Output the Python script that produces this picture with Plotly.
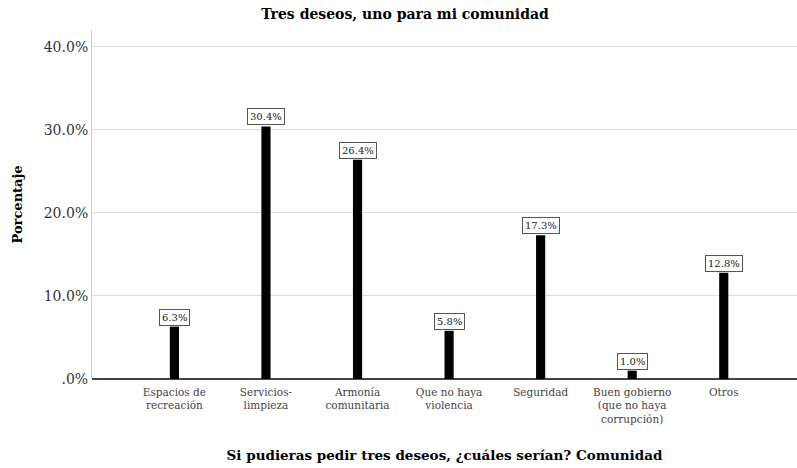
import plotly.graph_objects as go

categories = ["Espacios de<br>recreación", "Servicios-<br>limpieza", "Armonía<br>comunitaria",
              "Que no haya<br>violencia", "Seguridad", "Buen gobierno<br>(que no haya<br>corrupción)", "Otros"]
values = [6.3, 30.4, 26.4, 5.8, 17.3, 1.0, 12.8]
labels = ["6.3%", "30.4%", "26.4%", "5.8%", "17.3%", "1.0%", "12.8%"]
tick_vals = [0, 10, 20, 30, 40]
tick_text = [".0%", "10.0%", "20.0%", "30.0%", "40.0%"]

serif = "DejaVu Serif, Liberation Serif, serif"
x_idx = list(range(len(categories)))

fig = go.Figure()
fig.add_trace(go.Bar(x=x_idx, y=values, width=0.1, marker=dict(color="black", line=dict(width=0)),
                     showlegend=False, hoverinfo="skip"))

for xi, v, t in zip(x_idx, values, labels):
    fig.add_annotation(x=xi, y=v, text=t, showarrow=False, yanchor="bottom", xanchor="center",
                       yshift=1, font=dict(family=serif, size=10, color="#222"),
                       bgcolor="white", bordercolor="#555", borderwidth=1, borderpad=2)

fig.update_layout(
    width=797, height=468,
    margin=dict(l=92, r=0, t=30, b=89, autoexpand=False),
    paper_bgcolor="white", plot_bgcolor="white",
    title=dict(text="<b>Tres deseos, uno para mi comunidad</b>", x=0.444, xanchor="center",
               xref="paper", y=0.97, yanchor="middle",
               font=dict(family=serif, size=14, color="black")),
)
fig.update_xaxes(range=[-0.9, 6.8], tickvals=x_idx, ticktext=categories, showgrid=False,
                 showline=False, ticks="", tickfont=dict(family=serif, size=10.5, color="#444"),
                 automargin=False, ticklabelstandoff=5,
                 title=dict(text="<b>Si pudieras pedir tres deseos, ¿cuáles serían? Comunidad</b>",
                            font=dict(family=serif, size=13.5, color="black"), standoff=26),
                 zeroline=False)
fig.update_yaxes(range=[0, 42], tickvals=tick_vals, ticktext=tick_text, showgrid=True,
                 gridcolor="#dcdcdc", gridwidth=1, showline=True, linecolor="#cccccc", linewidth=1,
                 zeroline=True, zerolinecolor="#444", zerolinewidth=1.5, automargin=False,
                 tickfont=dict(family=serif, size=14, color="#333"), ticks="",
                 title=dict(text="<b>Porcentaje</b>", font=dict(family=serif, size=13, color="black"),
                            standoff=18))

fig.write_html("out.html", config={"displayModeBar": False},
               post_script="document.body.style.margin='0';document.body.style.overflow='hidden';")
